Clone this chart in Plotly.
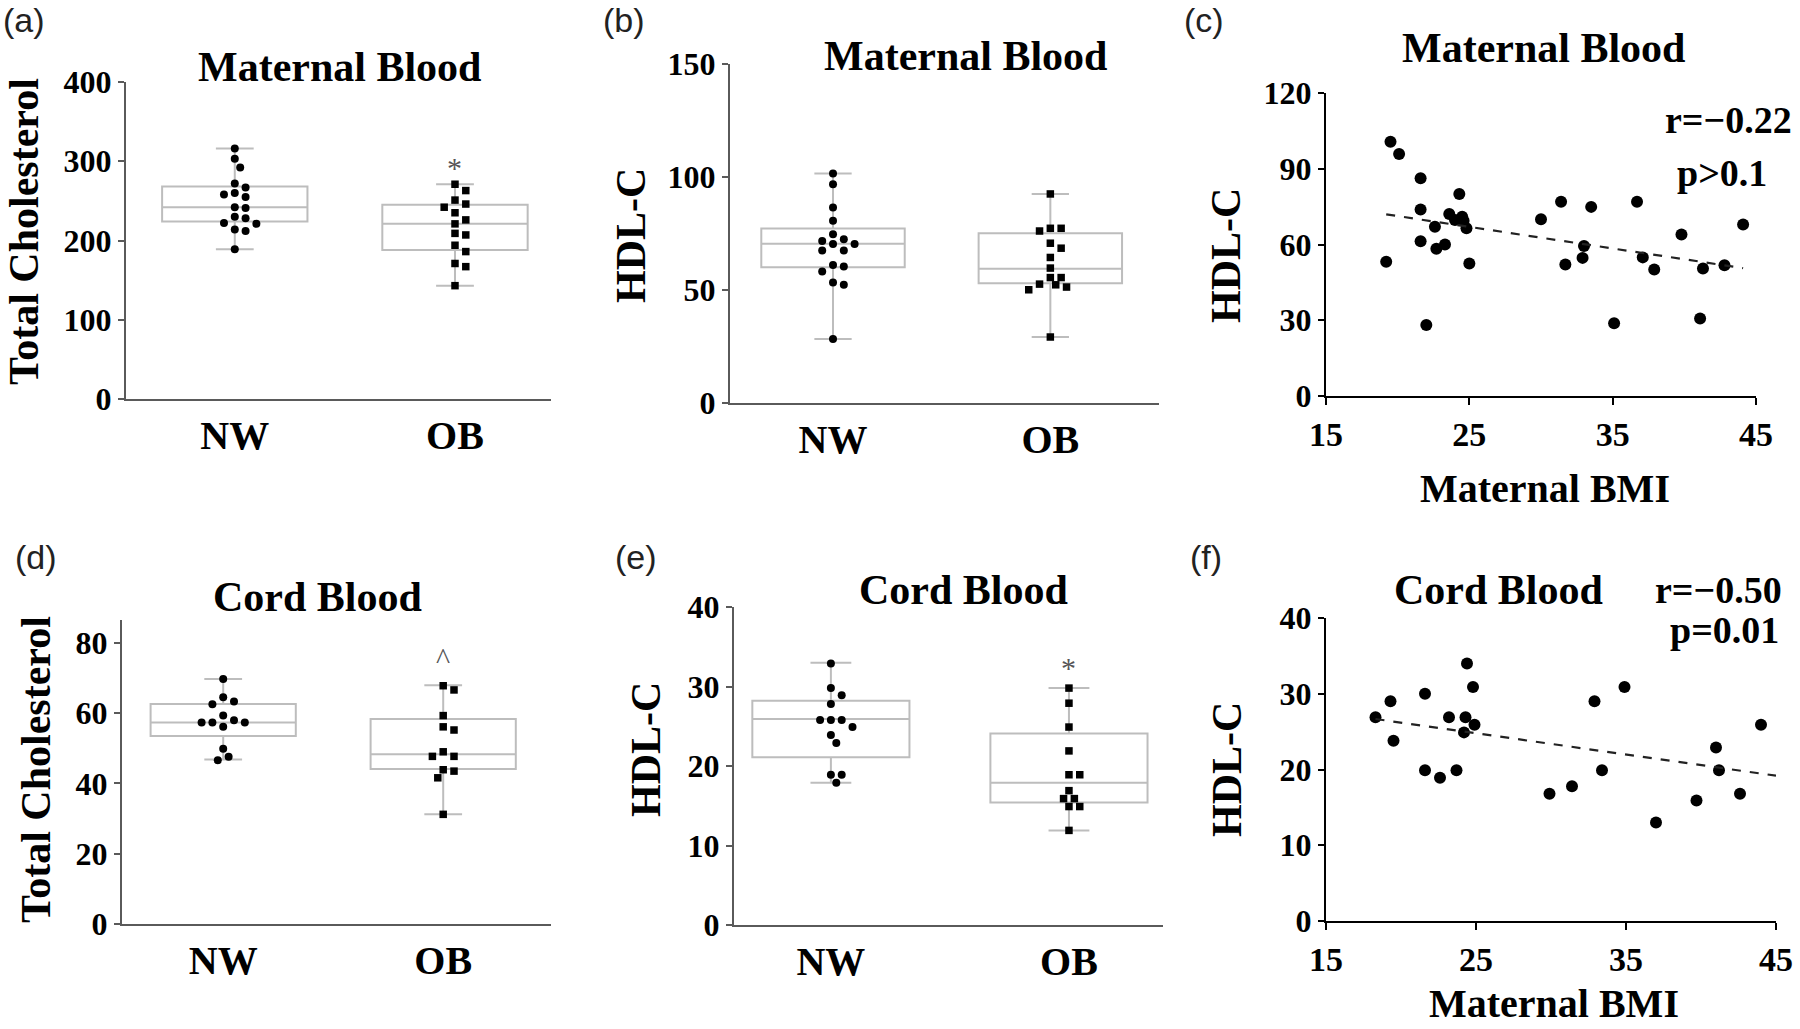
import numpy as np
import plotly.graph_objects as go

# ---------------- data ----------------
groups = ["NW", "OB"]

# (a) Maternal total cholesterol
a_nw = [316, 303, 292, 272, 267, 260, 255, 258, 241, 242, 230, 228, 221, 222, 214, 212, 189]
a_ob = [271, 263, 251, 246, 242, 235, 226, 221, 209, 207, 194, 186, 171, 167, 143]
a_stats_nw = [189, 224, 242, 268, 316]   # lower fence, q1, median, q3, upper fence
a_stats_ob = [143, 188, 221, 245, 271]

# (b) Maternal HDL-C
b_nw = [101.6, 96.8, 86.5, 80.6, 74.7, 72.5, 71.7, 70.4, 70.4, 67.5, 67.5, 61.1, 60.4, 58.2, 53.3, 52.3, 28.3]
b_ob = [92.5, 77.3, 77.3, 76.1, 70.7, 68.5, 64.4, 59.7, 55.5, 55.5, 52.6, 52.3, 51.3, 50.1, 29.2]
b_stats_nw = [28.3, 60.1, 70.5, 77.2, 101.6]
b_stats_ob = [29.2, 53.0, 59.4, 75.1, 92.5]

# (c) Maternal BMI vs maternal HDL-C
c_bmi = [19.5, 20.1, 19.2, 21.6, 21.6, 21.6, 22.0, 22.6, 22.7, 23.3, 23.6, 24.0, 24.3, 24.5, 24.6, 24.8,
         25.0, 30.0, 31.4, 31.7, 33.0, 32.9, 33.5, 35.1, 36.7, 37.1, 37.9, 39.8, 41.1, 41.3, 42.8, 44.1]
c_hdl = [100.7, 95.8, 53.2, 86.2, 73.9, 61.3, 28.1, 67.0, 58.3, 60.0, 72.1, 69.7, 80.0, 71.0, 69.4, 66.4,
         52.5, 70.0, 76.9, 52.1, 59.4, 54.7, 74.9, 28.8, 76.9, 54.9, 50.1, 64.0, 30.7, 50.5, 51.8, 67.9]
c_stats_text = ["r=−0.22", "p>0.1"]

# (d) Cord total cholesterol
d_nw = [69.7, 64.5, 63.3, 62.5, 59.3, 58.0, 57.3, 57.3, 57.3, 56.1, 49.9, 47.6, 46.6]
d_ob = [67.8, 66.6, 59.3, 56.1, 55.2, 49.0, 47.7, 47.7, 43.9, 43.5, 41.6, 31.2]
d_stats_nw = [46.8, 53.5, 57.3, 62.6, 69.7]
d_stats_ob = [31.2, 44.1, 48.3, 58.3, 67.9]

# (e) Cord HDL-C
e_nw = [32.9, 29.8, 28.9, 27.8, 25.8, 25.8, 25.8, 24.9, 23.9, 22.9, 18.9, 18.9, 17.9]
e_ob = [29.8, 27.9, 24.9, 21.9, 18.9, 18.9, 16.9, 15.9, 15.9, 14.9, 14.9, 11.9]
e_stats_nw = [17.9, 21.1, 25.9, 28.2, 33.0]
e_stats_ob = [11.9, 15.4, 17.9, 24.1, 29.8]

# (f) Maternal BMI vs cord HDL-C
f_bmi = [18.3, 19.3, 19.5, 21.6, 21.6, 22.6, 23.2, 23.7, 24.3, 24.2, 24.4, 24.8, 24.9, 29.9, 31.4, 32.9,
         33.4, 34.9, 37.0, 39.7, 41.0, 41.2, 42.6, 44.0]
f_hdl = [26.9, 29.0, 23.8, 30.0, 19.9, 18.9, 26.9, 19.9, 26.9, 24.9, 34.0, 30.9, 25.9, 16.8, 17.8, 29.0,
         19.9, 30.9, 13.0, 15.9, 22.9, 19.9, 16.8, 25.9]
f_stats_text = ["r=−0.50", "p=0.01"]

# significance marks: (panel, group index, y value, symbol)
sig_marks = [("a", 1, 292, "*"), ("d", 1, 75.5, "^"), ("e", 1, 32.4, "*")]

# ---------------- layout geometry (pixels) ----------------
W, H = 1800, 1029
SERIF = "Liberation Serif"
SANS = "Liberation Sans"

panels = {
    "a": dict(px=(126, 551), py=(82, 399), xr=[-0.494, 1.436], yr=[0, 400], yt=[0, 100, 200, 300, 400]),
    "b": dict(px=(730, 1159), py=(64, 403), xr=[-0.474, 1.50], yr=[0, 150], yt=[0, 50, 100, 150]),
    "c": dict(px=(1326, 1756), py=(93, 396), xr=[15, 45], yr=[0, 120], yt=[0, 30, 60, 90, 120]),
    "d": dict(px=(122, 551), py=(620, 924), xr=[-0.46, 1.49], yr=[0, 86.5], yt=[0, 20, 40, 60, 80]),
    "e": dict(px=(734, 1163), py=(607, 925), xr=[-0.407, 1.395], yr=[0, 40], yt=[0, 10, 20, 30, 40]),
    "f": dict(px=(1326, 1776), py=(618, 921), xr=[15, 45], yr=[0, 40], yt=[0, 10, 20, 30, 40]),
}
order = ["a", "b", "c", "d", "e", "f"]
axis_ids = {k: (i + 1) for i, k in enumerate(order)}

fig = go.Figure()

BOX_GRAY = "#bdbdbd"
AX_GRAY = "#5a5a5a"


def xref(k):
    i = axis_ids[k]
    return "x" if i == 1 else f"x{i}"


def yref(k):
    i = axis_ids[k]
    return "y" if i == 1 else f"y{i}"


def swarm(values, k, center, diam_px=9.0):
    """Deterministic beeswarm offsets computed in pixel space."""
    p = panels[k]
    ppy = (p["py"][1] - p["py"][0]) / (p["yr"][1] - p["yr"][0])
    ppx = (p["px"][1] - p["px"][0]) / (p["xr"][1] - p["xr"][0])
    placed = []
    xs = [0.0] * len(values)
    idx = sorted(range(len(values)), key=lambda i: -values[i])
    step = diam_px * 1.2
    cands = [0.0]
    for n in range(1, 10):
        cands += [n * step / 2, -n * step / 2]
    cands = sorted(set(cands), key=lambda c: (abs(c), -c))
    for i in idx:
        yp = values[i] * ppy
        for c in cands:
            if all((c - qx) ** 2 + (yp - qy) ** 2 >= diam_px ** 2 for qx, qy in placed):
                placed.append((c, yp))
                xs[i] = center + c / ppx
                break
    return xs


def add_box_panel(k, nw, ob, st_nw, st_ob):
    for gi, (vals, st, sym) in enumerate([(nw, st_nw, "circle"), (ob, st_ob, "square")]):
        fig.add_trace(go.Box(
            x=[gi], lowerfence=[st[0]], q1=[st[1]], median=[st[2]], q3=[st[3]], upperfence=[st[4]],
            width=0.66, whiskerwidth=0.26, boxpoints=False,
            line=dict(color=BOX_GRAY, width=2), fillcolor="white",
            xaxis=xref(k), yaxis=yref(k), showlegend=False, hoverinfo="skip"))
        fig.add_trace(go.Scatter(
            x=swarm(vals, k, gi), y=vals, mode="markers",
            marker=dict(symbol=sym, size=8 if sym == "circle" else 7.5, color="black"),
            xaxis=xref(k), yaxis=yref(k), showlegend=False, hoverinfo="skip"))


def add_scatter_panel(k, bmi, hdl, x_end):
    fig.add_trace(go.Scatter(
        x=bmi, y=hdl, mode="markers", marker=dict(symbol="circle", size=12, color="black"),
        xaxis=xref(k), yaxis=yref(k), showlegend=False, hoverinfo="skip"))
    slope, icpt = np.polyfit(bmi, hdl, 1)
    lx = np.array([min(bmi), x_end])
    fig.add_trace(go.Scatter(
        x=lx, y=slope * lx + icpt, mode="lines",
        line=dict(color="#222222", width=2.2, dash="dash"),
        xaxis=xref(k), yaxis=yref(k), showlegend=False, hoverinfo="skip"))


add_box_panel("a", a_nw, a_ob, a_stats_nw, a_stats_ob)
add_box_panel("b", b_nw, b_ob, b_stats_nw, b_stats_ob)
add_scatter_panel("c", c_bmi, c_hdl, max(c_bmi))
add_box_panel("d", d_nw, d_ob, d_stats_nw, d_stats_ob)
add_box_panel("e", e_nw, e_ob, e_stats_nw, e_stats_ob)
add_scatter_panel("f", f_bmi, f_hdl, panels["f"]["xr"][1])

layout = dict(template="none", width=W, height=H, margin=dict(l=0, r=0, t=0, b=0, autoexpand=False),
              paper_bgcolor="white", plot_bgcolor="white", showlegend=False)

for k in order:
    p = panels[k]
    i = axis_ids[k]
    scatter = k in ("c", "f")
    lc = "black" if scatter else AX_GRAY
    xa = dict(domain=[p["px"][0] / W, p["px"][1] / W], range=p["xr"], anchor=yref(k),
              automargin=False, showline=True, linecolor=lc, linewidth=2, showgrid=False, zeroline=False,
              tickfont=dict(family=SERIF, size=34 if scatter else 40, color="black", weight="bold"))
    if scatter:
        xa.update(tickvals=[15, 25, 35, 45], ticks="outside", ticklen=7, tickwidth=2, tickcolor=lc)
    else:
        xa.update(tickvals=[0, 1], ticktext=groups, ticks="")
    ya = dict(domain=[1 - p["py"][1] / H, 1 - p["py"][0] / H], range=p["yr"], anchor=xref(k),
              automargin=False, tickvals=p["yt"], ticks="outside", ticklen=6, tickwidth=2, tickcolor=lc,
              showline=True, linecolor=lc, linewidth=2, showgrid=False, zeroline=False,
              tickfont=dict(family=SERIF, size=32, color="black", weight="bold"))
    layout["xaxis" if i == 1 else f"xaxis{i}"] = xa
    layout["yaxis" if i == 1 else f"yaxis{i}"] = ya

fig.update_layout(**layout)


def ann(text, x, y, size, family=SERIF, bold=True, angle=0, color="black"):
    fig.add_annotation(text=text, x=x / W, y=1 - y / H, xref="paper", yref="paper",
                       xanchor="center", yanchor="middle", showarrow=False, textangle=angle,
                       font=dict(family=family, size=size, color=color,
                                 weight="bold" if bold else "normal"))


# panel letters
for lab, (x, y) in {"(a)": (24, 20), "(b)": (624, 20), "(c)": (1204, 20),
                    "(d)": (36, 557), "(e)": (636, 557), "(f)": (1206, 557)}.items():
    ann(lab, x, y, 34, family=SANS, bold=False, color="#222222")

# panel titles
for txt, (x, y) in [("Maternal Blood", (339, 67)), ("Maternal Blood", (966, 56)),
                    ("Maternal Blood", (1543, 48)), ("Cord Blood", (317, 597)),
                    ("Cord Blood", (963, 590)), ("Cord Blood", (1498, 590))]:
    ann(txt, x, y, 42)

# y axis titles
for txt, (x, y) in [("Total Cholesterol", (24, 232)), ("HDL-C", (631, 236)), ("HDL-C", (1226, 256)),
                    ("Total Cholesterol", (36, 770)), ("HDL-C", (646, 750)), ("HDL-C", (1227, 770))]:
    ann(txt, x, y, 42, angle=-90)

# x axis titles for scatter panels
ann("Maternal BMI", 1545, 488, 40)
ann("Maternal BMI", 1554, 1003, 40)

# correlation text
ann(c_stats_text[0], 1728, 120, 38)
ann(c_stats_text[1], 1722, 173, 38)
ann(f_stats_text[0], 1718, 590, 38)
ann(f_stats_text[1], 1724, 630, 38)

# significance marks
for k, gi, yv, sym in sig_marks:
    fig.add_annotation(text=sym, x=gi, y=yv, xref=xref(k), yref=yref(k), showarrow=False,
                       xanchor="center", yanchor="middle",
                       font=dict(family=SERIF, size=30, color="#555555"))

fig.write_html("out.html", config={"displayModeBar": False},
               post_script="document.body.style.margin='0px';")
